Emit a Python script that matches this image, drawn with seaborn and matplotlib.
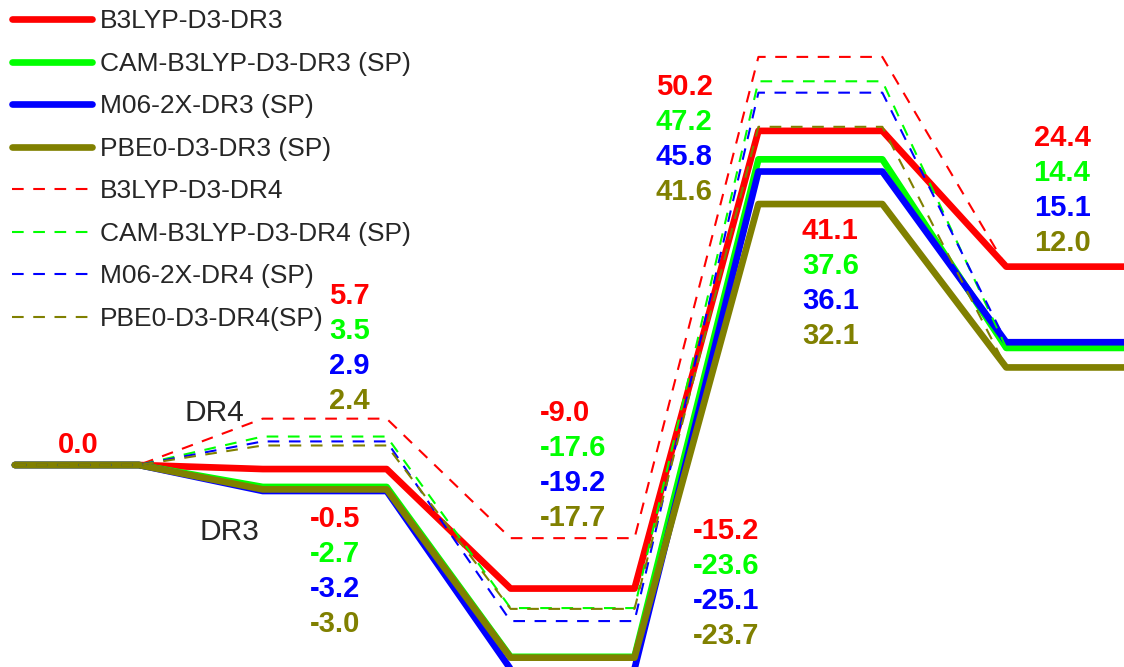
import numpy as np
import pandas as pd
import matplotlib
matplotlib.use('Agg')
import matplotlib.pyplot as plt
import seaborn as sns

# energy profile: R -> Int1 -> Int2 -> TS -> P  (kcal/mol)
states = ['R', 'Int1', 'Int2', 'TS', 'P']
colors = ['#FF0000', '#00FF00', '#0000FF', '#808000']

# DR3 path (solid)
dr3_b3lyp = [0.0, -0.5, -15.2, 41.1, 24.4]
dr3_cam = [0.0, -2.7, -23.6, 37.6, 14.4]
dr3_m06 = [0.0, -3.2, -25.1, 36.1, 15.1]
dr3_pbe0 = [0.0, -3.0, -23.7, 32.1, 12.0]

# DR4 path (dashed), runs into the same product
dr4_b3lyp = [0.0, 5.7, -9.0, 50.2, 24.4]
dr4_cam = [0.0, 3.5, -17.6, 47.2, 14.4]
dr4_m06 = [0.0, 2.9, -19.2, 45.8, 15.1]
dr4_pbe0 = [0.0, 2.4, -17.7, 41.6, 12.0]

dr3_labels = ['B3LYP-D3-DR3', 'CAM-B3LYP-D3-DR3 (SP)', 'M06-2X-DR3 (SP)', 'PBE0-D3-DR3 (SP)']
dr4_labels = ['B3LYP-D3-DR4', 'CAM-B3LYP-D3-DR4 (SP)', 'M06-2X-DR4 (SP)', 'PBE0-D3-DR4(SP)']

dr3 = [dr3_b3lyp, dr3_cam, dr3_m06, dr3_pbe0]
dr4 = [dr4_b3lyp, dr4_cam, dr4_m06, dr4_pbe0]

# each state is a plateau of width 1, joined by slopes of width 1
rows = []
for path, series, labels in [('DR3', dr3, dr3_labels), ('DR4', dr4, dr4_labels)]:
    for vals, lab in zip(series, labels):
        for i, e in enumerate(vals):
            rows.append({'x': 2 * i, 'E': e, 'label': lab, 'path': path})
            # dashed path stops where the product plateau starts
            if path == 'DR3' or i < len(vals) - 1:
                rows.append({'x': 2 * i + 1, 'E': e, 'label': lab, 'path': path})
df = pd.DataFrame(rows)

sns.set_style('white')
plt.rcParams['font.family'] = ['Liberation Sans', 'DejaVu Sans']

fig = plt.figure(figsize=(11.24, 6.67), dpi=100)
ax = fig.add_axes([0, 0, 1, 1])

for lab, c in zip(dr3_labels, colors):
    sns.lineplot(data=df[df['label'] == lab], x='x', y='E', color=c, lw=4.8,
                 label=lab, ax=ax, zorder=2,
                 solid_capstyle='round', solid_joinstyle='round')
for lab, c in zip(dr4_labels, colors):
    sns.lineplot(data=df[df['label'] == lab], x='x', y='E', color=c, lw=1.5,
                 linestyle=(0, (5.6, 4.6)), label=lab, ax=ax, zorder=3)

ax.set_xlim(-0.12, 8.95)
ax.set_ylim(-24.85, 57.2)
ax.axis('off')

# value labels: (state index, values, x, y of first row, alignment)
step = 4.3
cols = [
    (1, dr4, 2.70, 20.8, 'center'),
    (1, dr3, 2.58, -6.6, 'center'),
    (2, dr4, 4.24, 6.4, 'left'),
    (2, dr3, 5.47, -8.1, 'left'),
    (3, dr4, 5.63, 46.5, 'right'),
    (3, dr3, 6.58, 28.8, 'center'),
    (4, dr3, 8.45, 40.2, 'center'),
]
for si, series, tx, ty, ha in cols:
    for k, (vals, c) in enumerate(zip(series, colors)):
        ax.text(tx, ty - k * step, '%.1f' % vals[si], color=c, fontsize=21,
                fontweight='bold', ha=ha, va='center')
ax.text(0.51, 2.5, '%.1f' % dr3_b3lyp[0], color=colors[0], fontsize=21,
        fontweight='bold', ha='center', va='center')

ax.text(1.61, 6.4, 'DR4', fontsize=21.5, ha='center', va='center')
ax.text(1.73, -8.2, 'DR3', fontsize=21.5, ha='center', va='center')

handles, labels = ax.get_legend_handles_labels()
order = [labels.index(l) for l in dr3_labels + dr4_labels]
ax.legend([handles[i] for i in order], [labels[i] for i in order],
          loc='upper left', bbox_to_anchor=(0.0107, 0.9858), frameon=False,
          fontsize=19, handlelength=3.03, handletextpad=0.3,
          labelspacing=0.7, borderpad=0, borderaxespad=0)

plt.savefig('out.png', dpi=100)
